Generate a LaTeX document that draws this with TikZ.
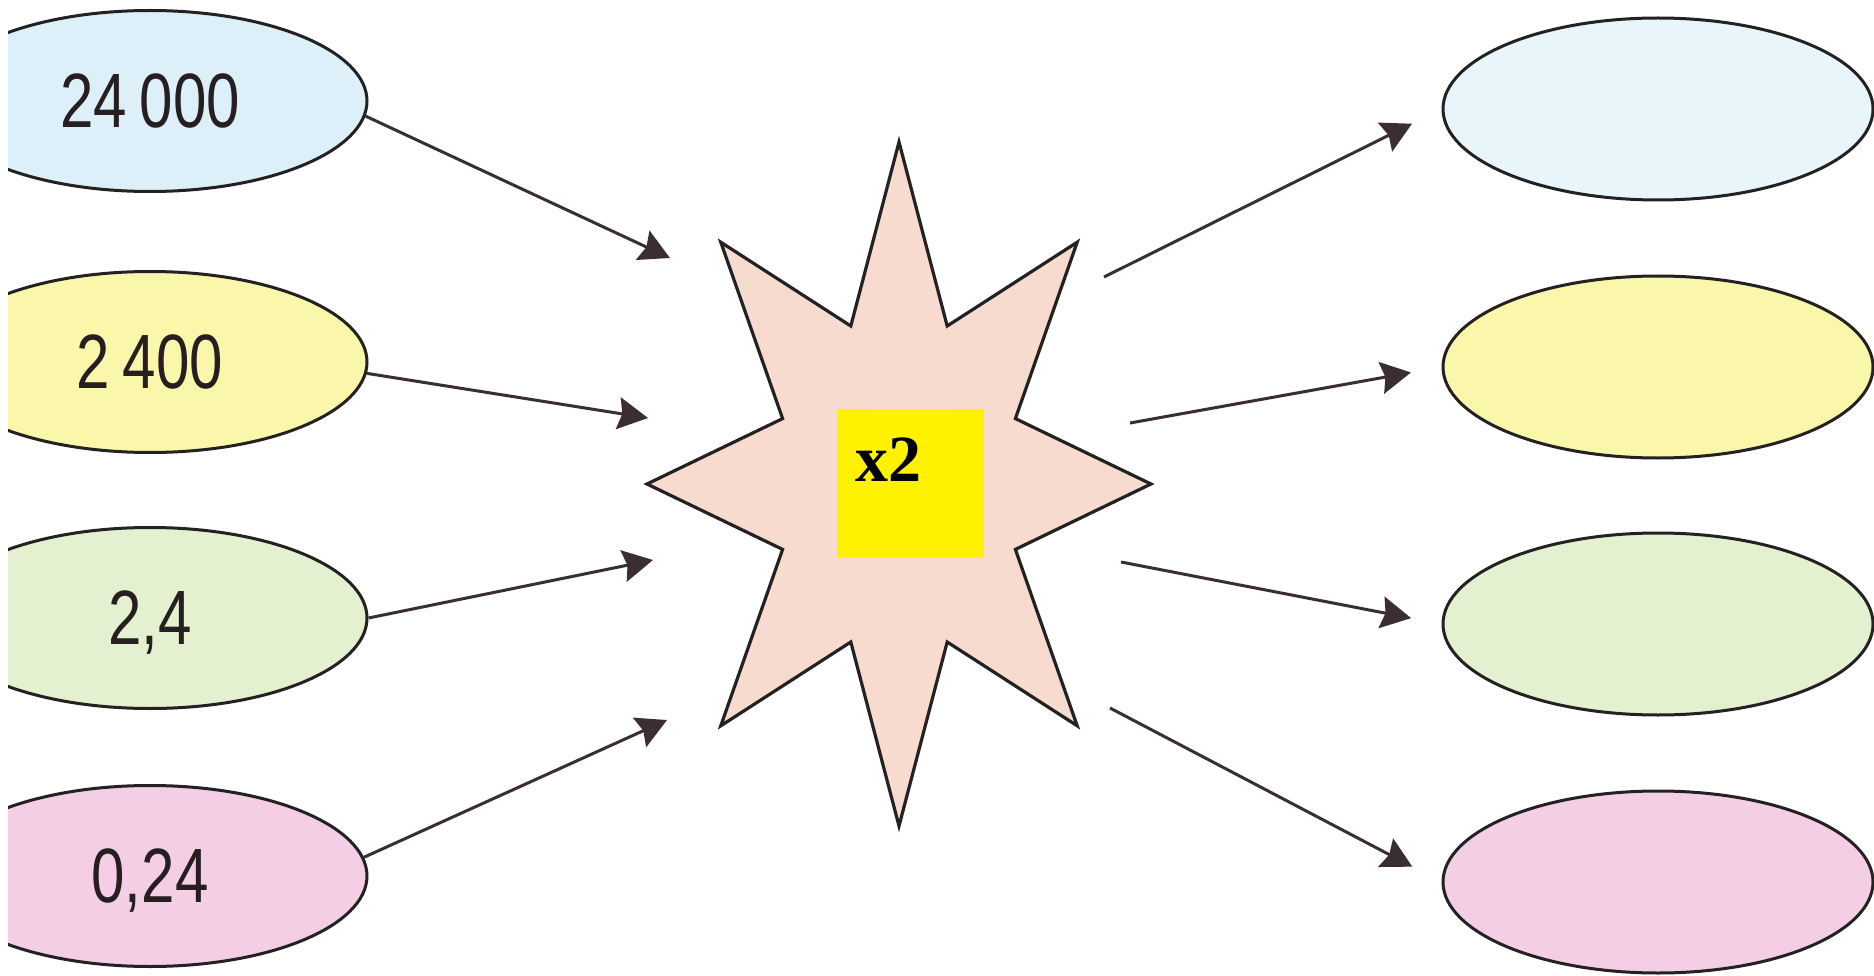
\documentclass[tikz,border=0pt]{standalone}
\usepackage{fontspec}
\usetikzlibrary{shapes.geometric,arrows.meta}
\newfontfamily\numfont[FakeStretch=0.78]{Liberation Sans}
\newfontfamily\boxfont{Liberation Serif}
\definecolor{cblueL}{RGB}{221,239,248}
\definecolor{cblueR}{RGB}{232,246,251}
\definecolor{cyel}{RGB}{250,246,170}
\definecolor{cgreen}{RGB}{228,241,208}
\definecolor{cpink}{RGB}{244,206,228}
\definecolor{cstar}{RGB}{246,219,206}
\definecolor{cink}{RGB}{38,30,33}
\definecolor{carrow}{RGB}{58,46,48}
\definecolor{cline}{RGB}{35,33,33}
\tikzset{
  oval/.style={ellipse, draw=cline, line width=3pt, minimum width=434pt, minimum height=181pt, inner sep=0pt, text depth=0pt, text=cink, font=\numfont\fontsize{77}{77}\selectfont},
  ovalR/.style={ellipse, draw=cline, line width=3pt, minimum width=430pt, minimum height=182pt, inner sep=0pt},
  arr/.style={draw=carrow, line width=3pt, -{Stealth[length=30pt,width=32pt,inset=4pt]}},
  starsty/.style={draw=cline, line width=3.2pt, fill=cstar, line join=miter}
}
\begin{document}
\begin{tikzpicture}[x=1pt,y=-1pt]
\useasboundingbox[fill=white] (0,0) rectangle (1874,976);
% left ovals (cut by the page edge)
\begin{scope}
\clip (8,0) rectangle (1874,976);
\node[oval, fill=cblueL] (L1) at (150,101) {24\,000};
\node[oval, fill=cyel]   (L2) at (150,362) {2\,400};
\node[oval, fill=cgreen] (L3) at (150,618) {2,4};
\node[oval, fill=cpink]  (L4) at (150,876) {0,24};
\end{scope}
% right ovals
\node[ovalR, fill=cblueR] (R1) at (1658,109) {};
\node[ovalR, fill=cyel]   (R2) at (1658,367) {};
\node[ovalR, fill=cgreen] (R3) at (1658,624) {};
\node[ovalR, fill=cpink]  (R4) at (1658,882) {};
% star
\draw[starsty] (1151,484) -- (1015.4,549.4) -- (1077.2,725.8) -- (947.2,642) -- (899,826)
  -- (850.8,642) -- (720.8,725.8) -- (782.6,549.4) -- (647,484) -- (782.6,418.6)
  -- (720.8,242.2) -- (850.8,326) -- (899,142) -- (947.2,326) -- (1077.2,242.2)
  -- (1015.4,418.6) -- cycle;
% yellow box
\node[fill=yellow, minimum width=147pt, minimum height=149pt, inner sep=0pt] (box) at (910.5,483.5) {};
\node[anchor=base west, inner sep=0pt, font=\boxfont\bfseries\fontsize{66}{66}\selectfont] (x2) at (855,481) {x2};
% arrow ends
\coordinate (a1) at (670,258);
\coordinate (a2) at (648,418);
\coordinate (a3) at (653,560);
\coordinate (a4) at (667,720);
\coordinate (b1) at (1104,277);
\coordinate (b2) at (1130,423);
\coordinate (b3) at (1121,562);
\coordinate (b4) at (1110,708);
\draw[arr] (L1.-4) -- (a1);
\draw[arr] (L2.-3) -- (a2);
\draw[arr] (L3.0) -- (a3);
\draw[arr] (L4.5) -- (a4);
\draw[arr, shorten >=33pt] (b1) -- (R1.west);
\draw[arr, shorten >=31pt] (b2) -- (R2.west);
\draw[arr, shorten >=31pt] (b3) -- (R3.west);
\draw[arr, shorten >=33pt] (b4) -- (R4.west);
\end{tikzpicture}
\end{document}
